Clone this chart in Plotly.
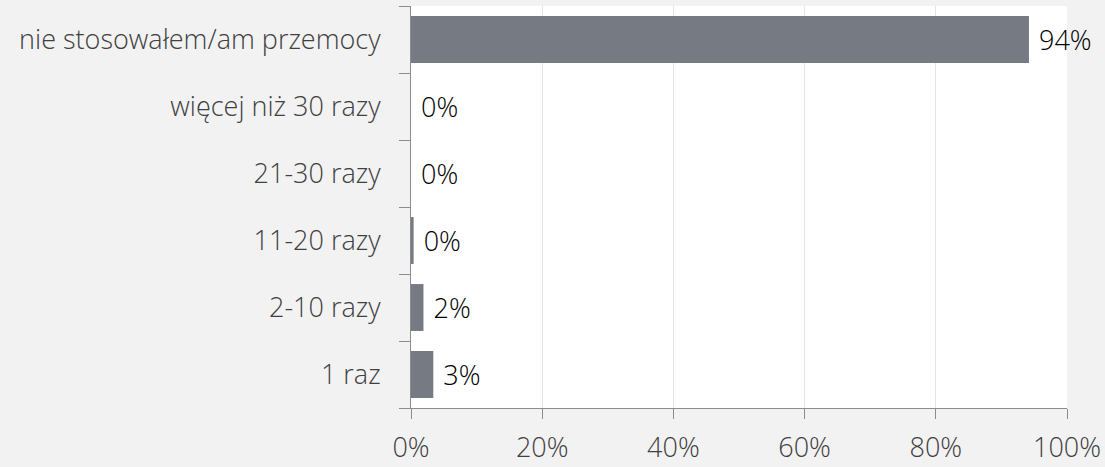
import plotly.graph_objects as go

categories = ["1 raz", "2-10 razy", "11-20 razy", "21-30 razy",
              "więcej niż 30 razy", "nie stosowałem/am przemocy"]
values = [3.4, 1.9, 0.4, 0.0, 0.0, 94.2]
x_ticks = [0, 20, 40, 60, 80, 100]
x_tick_labels = ["0%", "20%", "40%", "60%", "80%", "100%"]

fig = go.Figure(go.Bar(
    y=categories, x=values, orientation="h",
    marker=dict(color="#767a83", line=dict(width=0)),
    width=0.7,
    texttemplate=" %{x:.0f}%", textposition="outside", cliponaxis=False,
    textfont=dict(family="Open Sans", size=27, color="#000000"),
))

fig.update_layout(
    width=1105, height=467,
    margin=dict(l=411, r=38, t=6, b=59, autoexpand=False),
    paper_bgcolor="#f2f2f2", plot_bgcolor="#ffffff",
    showlegend=False,
    font=dict(family="Open Sans", size=27, color="#404040", weight=300),
    xaxis=dict(range=[0, 100], tickvals=x_ticks, ticktext=x_tick_labels,
               showgrid=True, gridcolor="#e4e4e4", gridwidth=1,
               showline=True, linecolor="#8c8c8c", linewidth=1,
               ticks="outside", ticklen=10, tickcolor="#8c8c8c",
               ticklabelstandoff=6, zeroline=False, fixedrange=True),
    yaxis=dict(categoryorder="array", categoryarray=categories,
               showline=True, linecolor="#8c8c8c", linewidth=1,
               ticks="outside", ticklen=11, tickcolor="#8c8c8c",
               tickson="boundaries", showgrid=False,
               ticklabelstandoff=24, fixedrange=True),
)

fig.write_html("out.html", config={"displayModeBar": False},
               post_script="document.body.style.margin='0';document.body.style.padding='0';")
